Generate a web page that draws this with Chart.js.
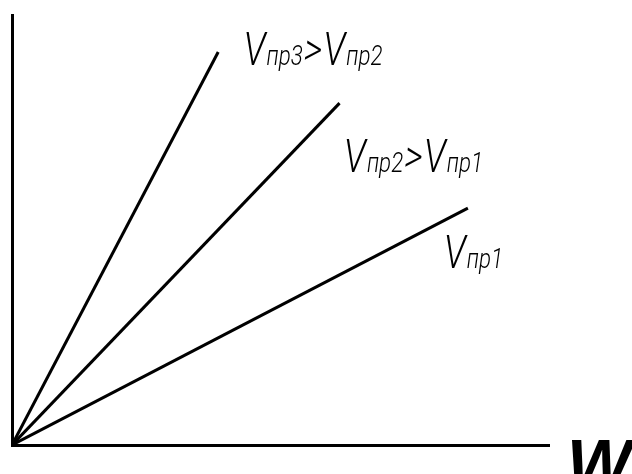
<!DOCTYPE html>
<html>
<head>
<meta charset="utf-8">
<script src="https://cdn.jsdelivr.net/npm/chart.js@4/dist/chart.umd.min.js"></script>
<style>
  html, body { margin: 0; padding: 0; background: #fff; }
  #wrap { width: 632px; height: 474px; position: relative; }
</style>
</head>
<body>
<div id="wrap"><canvas id="chart"></canvas></div>
<script>
// end points of the three rays (they all start at the origin)
const seriesNames = ['Vпр1', 'Vпр2', 'Vпр3'];
const endX = [84.9, 61.0, 38.4];
const endY = [55.1, 79.5, 91.4];

// label pieces: [text, isSubscript]
const labelParts = [
  [['V', 0], ['пр1', 1]],
  [['V', 0], ['пр2', 1], ['>', 0], ['V', 0], ['пр1', 1]],
  [['V', 0], ['пр3', 1], ['>', 0], ['V', 0], ['пр2', 1]],
];
const labelAt = [[80.4, 41.2], [61.8, 63.5], [43.1, 88.4]];

const FONT = 'Roboto, "DejaVu Sans", sans-serif';
const SQUEEZE = 0.8;

const labelsPlugin = {
  id: 'rayLabels',
  afterDraw(chart) {
    const { ctx, scales: { x, y } } = chart;
    ctx.save();
    ctx.fillStyle = '#000';
    ctx.textBaseline = 'alphabetic';
    labelParts.forEach((parts, i) => {
      let px = x.getPixelForValue(labelAt[i][0]);
      const py = y.getPixelForValue(labelAt[i][1]);
      parts.forEach(([t, sub]) => {
        ctx.font = sub ? 'italic 300 28px ' + FONT : 'italic 300 46px ' + FONT;
        ctx.save();
        ctx.translate(px, py);
        ctx.scale(SQUEEZE, 1);
        ctx.fillText(t, 0, 0);
        ctx.restore();
        px += ctx.measureText(t).width * SQUEEZE + 1;
      });
    });
    // axis name
    ctx.font = 'italic bold 68px "Liberation Sans", Arial, sans-serif';
    ctx.fillText('W', 567, 487);
    ctx.restore();
  }
};

new Chart(document.getElementById('chart'), {
  type: 'scatter',
  data: {
    datasets: seriesNames.map((name, i) => ({
      label: name,
      data: [{ x: 0, y: 0 }, { x: endX[i], y: endY[i] }],
      showLine: true,
      borderColor: '#000',
      borderWidth: 3,
      pointRadius: 0,
      borderCapStyle: 'butt',
    })),
  },
  options: {
    responsive: true, maintainAspectRatio: false, animation: false,
    layout: { padding: { left: 4, top: 15, right: 83, bottom: 21 } },
    plugins: { legend: { display: false }, tooltip: { enabled: false } },
    scales: {
      x: { type: 'linear', min: 0, max: 100,
           ticks: { display: false }, grid: { display: false },
           border: { display: true, color: '#000', width: 3 } },
      y: { type: 'linear', min: 0, max: 100,
           ticks: { display: false }, grid: { display: false },
           border: { display: true, color: '#000', width: 3 } },
    },
  },
  plugins: [labelsPlugin],
});
</script>
</body>
</html>
